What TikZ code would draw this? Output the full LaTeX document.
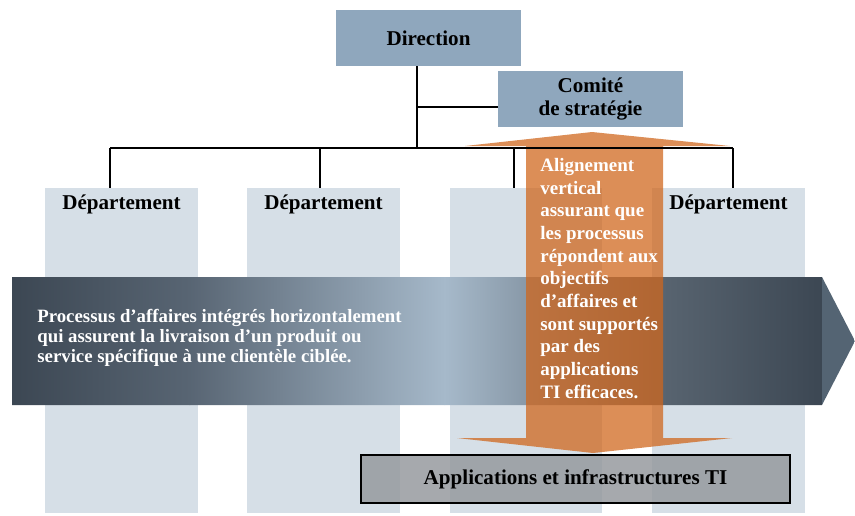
\documentclass[tikz,border=0pt]{standalone}
\usepackage{fontspec}
\setmainfont{Liberation Serif}
\usepackage{tikz}
\usetikzlibrary{calc}

\definecolor{boxblue}{RGB}{143,167,189}
\definecolor{colgray}{RGB}{214,223,231}
\definecolor{procdark}{RGB}{60,71,83}
\definecolor{procdim}{RGB}{88,101,115}
\definecolor{proclight}{RGB}{166,185,202}
\definecolor{procmid}{RGB}{88,100,112}
\definecolor{prochead}{RGB}{84,100,115}
\definecolor{alignorange}{RGB}{208,102,28}
\definecolor{appgray}{RGB}{150,154,159}

\begin{document}
\begin{tikzpicture}[x=0.02cm,y=-0.02cm]
\tikzstyle{every node}=[font=\bfseries\fontsize{12}{13}\selectfont]
\tikzstyle{orgbox}=[fill=boxblue, minimum width=3.7cm, minimum height=1.12cm, inner sep=0, align=center]
\tikzstyle{colbox}=[fill=colgray, minimum width=3.06cm, minimum height=6.5cm, inner sep=0]
\tikzstyle{deptlabel}=[anchor=north, inner sep=0, yshift=-0.14cm]
\tikzstyle{link}=[black, line width=0.6pt]

	\useasboundingbox (0,0) rectangle (855,515);

	% department columns
	\foreach \i/\cx in {1/121.5,2/323.5,3/526,4/728.5} {
		\node [colbox] (d\i) at (\cx,350.5) {};
	}
	\foreach \i in {1,2,4} {
		\node [deptlabel] (l\i) at (d\i.north) {Département};
	}

	% horizontal process arrow
	\begin{scope}
		\clip (12,277) -- (822,277) -- (855,341) -- (822,405) -- (12,405) -- cycle;
		\fill [left color=procdark, right color=procdim] (12,277) rectangle (190,405);
		\fill [left color=procdim, right color=proclight] (189.5,277) rectangle (445,405);
		\fill [left color=proclight, right color=procmid] (444.5,277) rectangle (663,405);
		\fill [left color=procmid, right color=procdark] (662.5,277) rectangle (822,405);
		\fill [prochead] (822,277) rectangle (855,405);
	\end{scope}
	\node [anchor=west, inner sep=0, text=white, align=left,
		font=\bfseries\fontsize{10.7}{11.5}\selectfont] (proc) at (37,338)
		{Processus d'affaires intégrés horizontalement\\
		qui assurent la livraison d'un produit ou\\
		service spécifique à une clientèle ciblée.};

	% vertical alignment arrow
	\fill [alignorange, opacity=0.74] (526,146) -- (465,146) -- (592,132) -- (730,146)
		-- (663,146) -- (663,438) -- (732,438) -- (593,453) -- (457,438) -- (526,438) -- cycle;
	\node [anchor=north west, inner sep=0, text=white, align=left,
		font=\bfseries\fontsize{10.8}{12.9}\selectfont] (align) at (540,158)
		{Alignement\\ vertical\\ assurant que\\ les processus\\ répondent aux\\ objectifs\\
		d'affaires et\\ sont supportés\\ par des\\ applications\\ TI efficaces.};

	% org chart
	\node [orgbox] (dir) at (428.5,38) {Direction};
	\node [orgbox] (com) at (590.5,99) {Comité\\ de stratégie};

	\coordinate (trunk) at (417,148);
	\coordinate (fork) at (417,107);
	\draw [link] (dir.south -| trunk) -- (trunk);
	\draw [link] (fork) -- (fork -| com.west);
	\foreach \i/\tx in {1/110,2/320,3/514,4/733} {
		\coordinate (t\i) at (\tx,148);
		\draw [link] (t\i) -- (t\i |- d\i.north);
	}
	\draw [link] (t1) -- (t4);

	\node [draw=black, line width=0.8pt, fill=appgray, fill opacity=0.85, text opacity=1,
		minimum width=8.58cm, minimum height=0.96cm] (apps) at (575.5,479)
		{Applications et infrastructures TI};
\end{tikzpicture}
\end{document}
